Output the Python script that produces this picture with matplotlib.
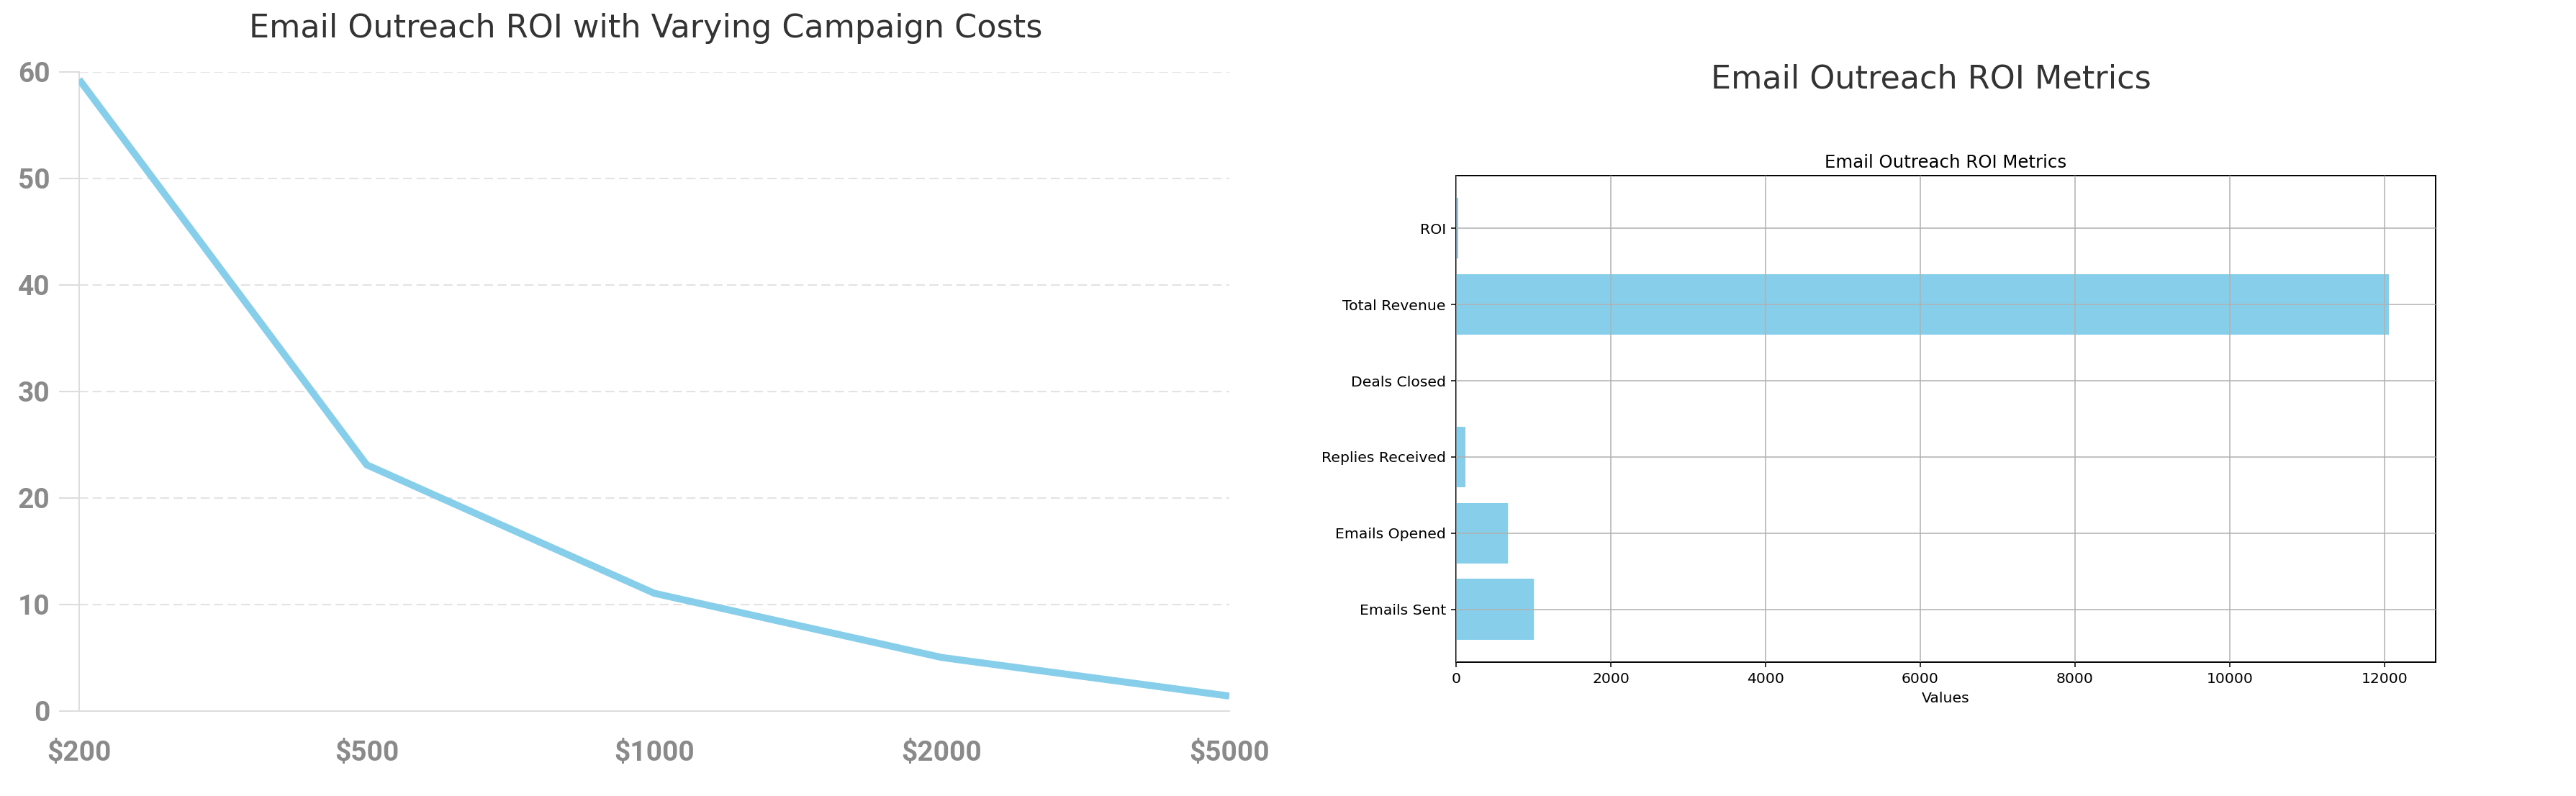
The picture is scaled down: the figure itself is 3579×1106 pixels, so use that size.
import matplotlib.pyplot as plt

# left panel: ROI for each campaign cost
cost_labels = ["$200", "$500", "$1000", "$2000", "$5000"]
roi_values = [59.3, 23.12, 11.06, 5.03, 1.41]
roi_ticks = [0, 10, 20, 30, 40, 50, 60]

# right panel: outreach metrics
metric_names = ["Emails Sent", "Emails Opened", "Replies Received",
                "Deals Closed", "Total Revenue", "ROI"]
metric_values = [1000, 665, 120, 12, 12060, 23.12]

fig = plt.figure(figsize=(35.8, 11.06), dpi=100)

# ---- left: line chart ----
ax1 = fig.add_axes([0.0307, 0.1067, 0.4464, 0.8029])
x = list(range(len(cost_labels)))
ax1.plot(x, roi_values, color="skyblue", lw=7, solid_capstyle="butt", zorder=3)
ax1.set_xlim(0, len(cost_labels) - 1)
ax1.set_ylim(0, 60)
ax1.set_xticks(x)
ax1.set_xticklabels(cost_labels)
ax1.set_yticks(roi_ticks)
for s in ["top", "right"]:
    ax1.spines[s].set_visible(False)
for s in ["left", "bottom"]:
    ax1.spines[s].set_color("#dddddd")
    ax1.spines[s].set_linewidth(1.5)
ax1.yaxis.grid(True, color="#e3e3e3", lw=1.5, linestyle=(0, (6, 3)))
ax1.tick_params(axis="y", length=20, width=1.5, color="#dddddd", pad=9)
ax1.tick_params(axis="x", length=0, pad=29)
for lab in ax1.get_xticklabels() + ax1.get_yticklabels():
    lab.set_family(["Roboto", "DejaVu Sans"])
    lab.set_fontsize(28)
    lab.set_fontweight("bold")
    lab.set_color("#8a8a8a")
fig.text(0.2506, 0.9647, "Email Outreach ROI with Varying Campaign Costs",
         ha="center", va="center", fontsize=32, color="#333333")

# ---- right: horizontal bars ----
fig.text(0.7494, 0.9005, "Email Outreach ROI Metrics",
         ha="center", va="center", fontsize=32, color="#333333")
ax2 = fig.add_axes([0.5651, 0.1682, 0.3802, 0.6112])
ax2.barh(metric_names, metric_values, color="skyblue")
ax2.set_axisbelow(False)
ax2.grid(True, color="#b0b0b0", lw=1.1)
ax2.set_title("Email Outreach ROI Metrics", fontsize=17.6, pad=8)
ax2.set_xlabel("Values", fontsize=14.7, labelpad=6)
ax2.tick_params(labelsize=14.7, length=5.1, width=1.1, pad=5.1)
for s in ax2.spines.values():
    s.set_linewidth(1.4)

fig.savefig("out.png", dpi=100)
